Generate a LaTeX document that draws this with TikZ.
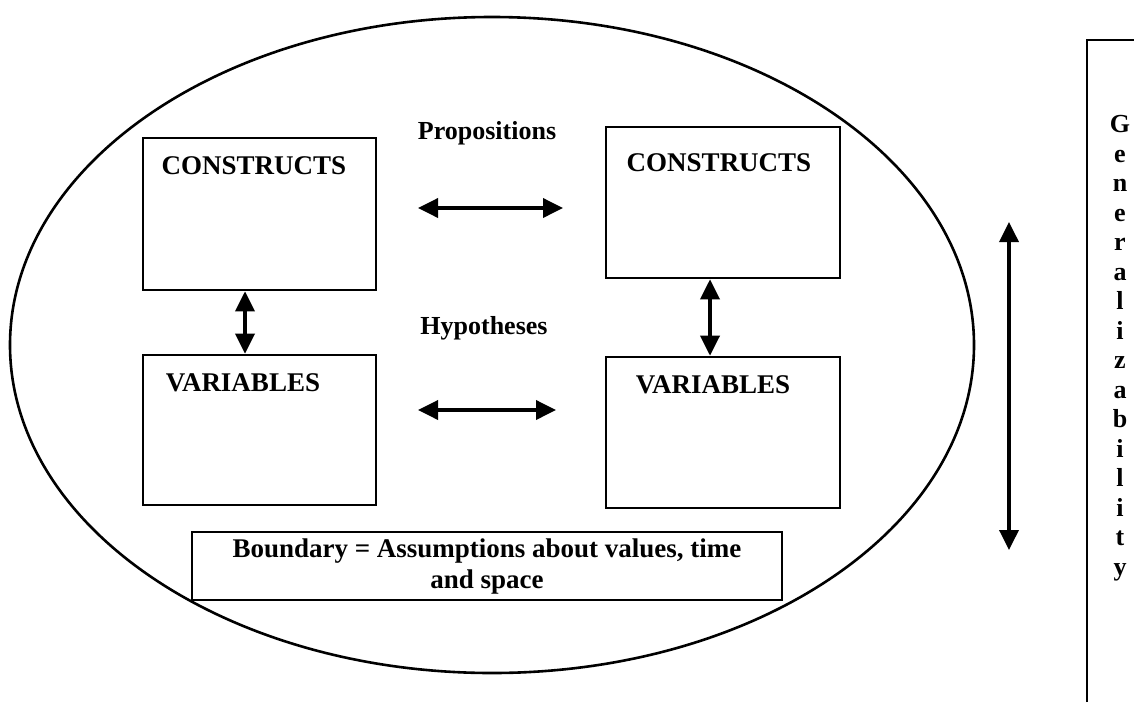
\documentclass[tikz,border=0pt]{standalone}
\usepackage{fontspec}
\setmainfont{Liberation Serif}
\usetikzlibrary{arrows.meta}
\begin{document}
\begin{tikzpicture}[x=1pt,y=-1pt,
  box/.style={draw, line width=2.6pt, inner sep=0pt},
  title/.style={font=\bfseries\fontsize{27}{30}\selectfont},
  lbl/.style={font=\bfseries\fontsize{26}{30}\selectfont},
  tip/.tip={Triangle[length=20pt,width=19pt]},
  link/.style={line width=3.6pt, tip-tip},
]
\useasboundingbox (0,0) rectangle (1134,702);

% outer oval
\draw[line width=2.6pt] (492,345) ellipse [x radius=482pt, y radius=328pt];

% the four boxes
\node[box, minimum width=233pt, minimum height=152pt] (c1) at (259.5,214) {};
\node[box, minimum width=234pt, minimum height=151pt] (c2) at (723,202.5) {};
\node[box, minimum width=233pt, minimum height=150pt] (v1) at (259.5,430) {};
\node[box, minimum width=234pt, minimum height=151pt] (v2) at (723,432.5) {};
\node[title] (c1t) at (254,166) {CONSTRUCTS};
\node[title] (c2t) at (719,163) {CONSTRUCTS};
\node[title] (v1t) at (243,383) {VARIABLES};
\node[title] (v2t) at (713,385) {VARIABLES};

% boundary box
\node[box, minimum width=590pt, minimum height=68pt] (bd) at (487,566) {};
\node[align=center, font=\bfseries\fontsize{27}{31}\selectfont] (bdt) at (bd) {Boundary = Assumptions about values, time\\and space};

% relation labels
\node[lbl] (prop) at (487,133) {Propositions};
\node[lbl] (hyp) at (484,328) {Hypotheses};

% horizontal links
\coordinate (pa) at (418,208);
\coordinate (pb) at (563,208);
\coordinate (ha) at (418,410);
\coordinate (hb) at (556,410);
\draw[link] (pa) -- (pb);
\draw[link] (ha) -- (hb);

% vertical links between constructs and variables
\coordinate (lx) at (245,0);
\coordinate (rx) at (710,0);
\draw[link] (c1.south -| lx) -- (v1.north -| lx);
\draw[link] (c2.south -| rx) -- (v2.north -| rx);

% generalizability scale
\coordinate (ga) at (1009,222);
\coordinate (gb) at (1009,550);
\draw[link] (ga) -- (gb);

\coordinate (fa) at (1087,702);
\coordinate (fb) at (1087,40);
\coordinate (fc) at (1140,40);
\draw[line width=2.4pt] (fa) -- (fb) -- (fc);
\node[align=center, font=\bfseries\fontsize{26}{29.5}\selectfont, anchor=north] (gen) at (1120,112)
  {G\\e\\n\\e\\r\\a\\l\\i\\z\\a\\b\\i\\l\\i\\t\\y};
\end{tikzpicture}
\end{document}
